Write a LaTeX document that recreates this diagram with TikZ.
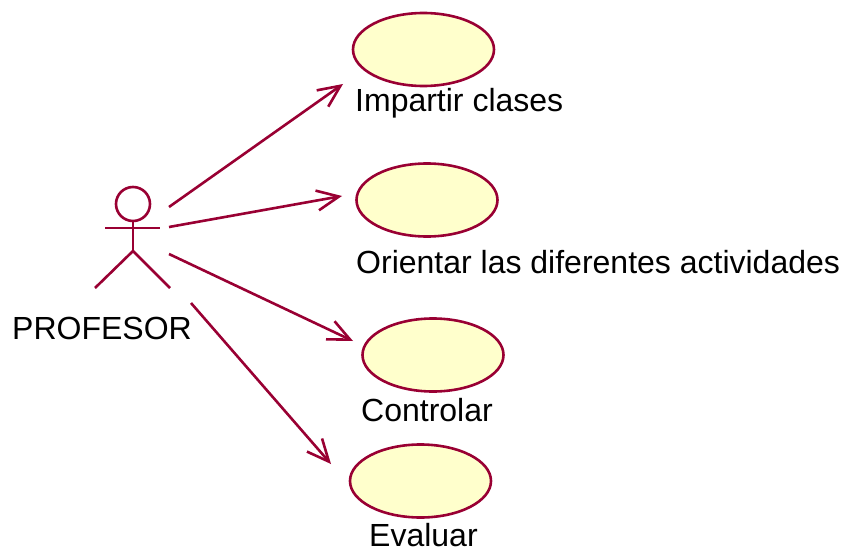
\documentclass[tikz,border=0pt]{standalone}
\usepackage{fontspec}
\setmainfont{Liberation Sans}
\usetikzlibrary{arrows.meta,shapes.geometric}
\definecolor{umlline}{HTML}{990033}
\definecolor{umlfill}{HTML}{FFFFCC}
\tikzset{
  usecase/.style={ellipse,draw=umlline,fill=umlfill,line width=2.6pt,minimum width=141pt,minimum height=73pt,inner sep=0pt},
  actorline/.style={draw=umlline,line width=2.6pt},
  assoc/.style={actorline,-{Straight Barb[length=22pt,width=20pt,line width=2.6pt]}},
  caption/.style={anchor=base west,inner sep=0pt,font=\fontsize{32}{34}\selectfont}
}
\begin{document}
\begin{tikzpicture}[x=1pt,y=-1pt]
  \useasboundingbox (0,0) rectangle (844,551);

  % Use cases
  \node[usecase] (impartir)  at (423.5,49.5) {};
  \node[usecase] (orientar)  at (427,200) {};
  \node[usecase] (controlar) at (433,355) {};
  \node[usecase] (evaluar)   at (420.5,481) {};

  % Labels
  \node[caption] (limpartir)  at (355,111) {Impartir clases};
  \node[caption] (lorientar)  at (356,273) {Orientar las diferentes actividades};
  \node[caption] (lcontrolar) at (361,421) {Controlar};
  \node[caption] (levaluar)   at (369,546) {Evaluar};
  \node[caption] (lprofesor)  at (12,339)  {PROFESOR};

  % Actor
  \node[circle,actorline,minimum size=34pt,inner sep=0pt] (head) at (133,204) {};
  \coordinate (arml) at (105,228);
  \coordinate (armr) at (160,228);
  \coordinate (hip) at (133,251);
  \coordinate (footl) at (95,288);
  \coordinate (footr) at (170,288);
  \draw[actorline] (head.south) -- (hip);
  \draw[actorline] (arml) -- (armr);
  \draw[actorline] (footl) -- (hip) -- (footr);

  % Connect the actor to the use cases
  \coordinate (t1) at (169,207);
  \coordinate (t2) at (169,227);
  \coordinate (t3) at (169,254);
  \coordinate (t4) at (191,303);
  \coordinate (e1) at (343,84);
  \coordinate (e2) at (342,196);
  \coordinate (e3) at (353,341);
  \coordinate (e4) at (331,464);
  \draw[assoc] (t1) -- (e1);
  \draw[assoc] (t2) -- (e2);
  \draw[assoc] (t3) -- (e3);
  \draw[assoc] (t4) -- (e4);
\end{tikzpicture}
\end{document}
